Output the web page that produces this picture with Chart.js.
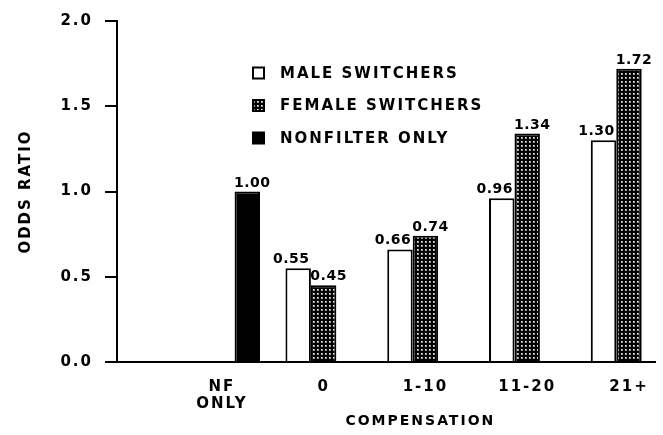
<!DOCTYPE html>
<html><head><meta charset="utf-8">
<script src="https://cdn.jsdelivr.net/npm/chart.js@4"></script>
<style>html,body{margin:0;padding:0;background:#fff}</style>
</head><body>
<canvas id="c" width="663" height="435"></canvas>
<script>
const categories = [['NF', 'ONLY'], '0', '1-10', '11-20', '21+'];
const maleSwitchers = [null, 0.55, 0.66, 0.96, 1.30];
const femaleSwitchers = [null, 0.45, 0.74, 1.34, 1.72];
const nonfilterOnly = [1.00, null, null, null, null];
const yTickValues = [0, 0.5, 1.0, 1.5, 2.0];
const seriesNames = ['MALE SWITCHERS', 'FEMALE SWITCHERS', 'NONFILTER ONLY'];
const xTitle = 'COMPENSATION';
const yTitle = 'ODDS RATIO';

const FONT = '"DejaVu Sans", sans-serif';
Chart.defaults.font.family = FONT;
Chart.defaults.font.weight = 'bold';
Chart.defaults.color = '#000';

function dotPattern() {
  const t = document.createElement('canvas');
  t.width = 4; t.height = 4;
  const g = t.getContext('2d');
  g.fillStyle = '#000'; g.fillRect(0, 0, 4, 4);
  g.fillStyle = '#9a9a9a'; g.fillRect(1, 1, 2, 2);
  g.fillStyle = '#fff'; g.fillRect(1, 1, 1, 1);
  return g.createPattern(t, 'repeat');
}
const dots = dotPattern();

function toPoints(arr) { return arr.map((v, i) => ({x: i, y: v})); }

const spacingPlugin = {
  id: 'spacing',
  beforeDraw(chart) { chart.ctx.letterSpacing = '2px'; }
};

const labelShift = [-7, 5, 5];
const valueLabels = {
  id: 'valueLabels',
  afterDatasetsDraw(chart) {
    const ctx = chart.ctx;
    ctx.save();
    ctx.letterSpacing = '0.5px';
    ctx.font = 'bold 14px ' + FONT;
    ctx.fillStyle = '#000';
    ctx.textAlign = 'center';
    ctx.textBaseline = 'alphabetic';
    chart.data.datasets.forEach((ds, di) => {
      const meta = chart.getDatasetMeta(di);
      meta.data.forEach((el, i) => {
        const v = ds.data[i].y;
        if (v === null || v === undefined) return;
        ctx.fillText(v.toFixed(2), el.x + labelShift[di], el.y - 5);
      });
    });
    ctx.restore();
  }
};

const boxLegend = {
  id: 'boxLegend',
  afterDraw(chart) {
    const ctx = chart.ctx;
    ctx.save();
    ctx.letterSpacing = '2px';
    ctx.font = 'bold 15px ' + FONT;
    ctx.textBaseline = 'middle';
    ctx.textAlign = 'left';
    const x = 252, s = 13;
    chart.data.datasets.forEach((ds, i) => {
      const y = 73 + i * 32.5;
      ctx.fillStyle = '#000';
      ctx.fillRect(x, y - s / 2, s, s);
      ctx.fillStyle = ds.backgroundColor;
      ctx.fillRect(x + 2, y - s / 2 + 2, s - 4, s - 4);
      ctx.fillStyle = '#000';
      ctx.fillText(ds.label, 280, y + 1);
    });
    // x axis title, centred slightly right of the plot centre as in the original
    ctx.font = 'bold 14px ' + FONT;
    ctx.textAlign = 'center';
    ctx.textBaseline = 'middle';
    ctx.fillText(xTitle, chart.scales.x.getPixelForValue(1.95), 421);
    ctx.restore();
  }
};

new Chart(document.getElementById('c'), {
  type: 'bar',
  data: {
    datasets: [
      {label: seriesNames[0], data: toPoints(maleSwitchers), backgroundColor: '#fff'},
      {label: seriesNames[1], data: toPoints(femaleSwitchers), backgroundColor: dots},
      {label: seriesNames[2], data: toPoints(nonfilterOnly), backgroundColor: '#000'}
    ]
  },
  options: {
    responsive: false,
    animation: false,
    devicePixelRatio: 1,
    layout: {padding: {top: 16, right: 6, left: 0, bottom: 0}},
    plugins: {legend: {display: false}, tooltip: {enabled: false}},
    datasets: {bar: {categoryPercentage: 0.75, barPercentage: 1, borderWidth: 2, borderColor: '#000'}},
    scales: {
      x: {
        type: 'linear', min: -1.03, max: 4.26, offset: false,
        grid: {display: true, drawOnChartArea: false, drawTicks: false},
        border: {display: true, color: '#000', width: 2},
        ticks: {
          stepSize: 1, includeBounds: false, autoSkip: false, maxRotation: 0, padding: 17,
          color: '#000', font: {size: 15, weight: 'bold', lineHeight: 1.13},
          callback: (v) => (Number.isInteger(v) && v >= 0 && v < categories.length) ? categories[v] : ''
        },
        title: {display: false},
        afterFit: (s) => { s.height = 73; }
      },
      y: {
        min: 0, max: 2,
        grid: {display: true, drawOnChartArea: false, drawTicks: true, tickLength: 12, color: '#000', lineWidth: 2},
        border: {display: true, color: '#000', width: 2},
        afterBuildTicks: (s) => { s.ticks = yTickValues.map(v => ({value: v})); },
        ticks: {padding: 12, color: '#000', autoSkip: false, font: {size: 15, weight: 'bold'}, callback: (v) => Number(v).toFixed(1)},
        title: {display: true, text: yTitle, color: '#000', font: {size: 15, weight: 'bold'}, padding: {top: 17, bottom: 0}},
        afterFit: (s) => { s.width = 117; }
      }
    }
  },
  plugins: [spacingPlugin, valueLabels, boxLegend]
});
</script>
</body></html>
